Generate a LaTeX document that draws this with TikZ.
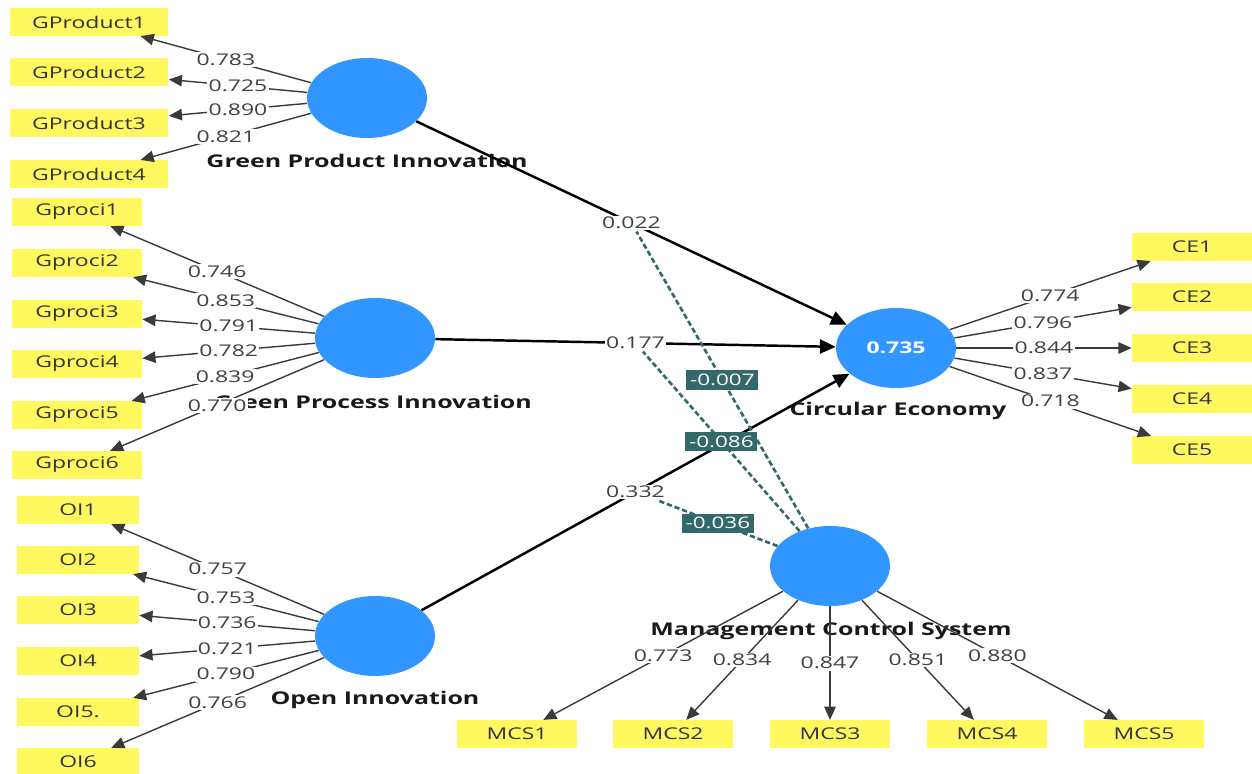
\documentclass[tikz,border=0pt]{standalone}
\usepackage{fontspec}
\setmainfont{Open Sans}[FakeStretch=1.42]
\usetikzlibrary{shapes.geometric,arrows.meta}

\definecolor{lvblue}{HTML}{3196FF}
\definecolor{indyellow}{HTML}{FFF85F}
\definecolor{modteal}{HTML}{33696A}
\definecolor{ldgray}{HTML}{3A3A3A}

\begin{document}
\begin{tikzpicture}
  [x=0.02cm,y=-0.02cm,
   every node/.style={font=\fontsize{9.2}{10}\selectfont, inner sep=1pt},
   lv/.style={ellipse, fill=lvblue, minimum width=2.4cm, minimum height=1.6cm, inner sep=0pt},
   lvname/.style={font=\fontsize{10}{11}\selectfont\bfseries, text=black!90},
   ind/.style={fill=indyellow, text=black!80, minimum height=0.55cm, inner sep=0pt},
   ld/.style={fill=white, text=black!75, inner sep=0.8pt},
   load/.style={draw=ldgray, line width=0.8pt, -{Triangle[length=7.5pt,width=6.5pt]}},
   struct/.style={draw=black, line width=1.4pt, -{Triangle[length=9pt,width=8pt]}},
   mod/.style={draw=modteal, line width=1.5pt, dash pattern=on 3pt off 1.6pt},
   modbox/.style={fill=modteal, text=white, inner sep=2.2pt, font=\fontsize{9}{10}\selectfont}]
  \useasboundingbox (0,0) rectangle (1252,774);

  % latent variables
  \node[lv] (gpi) at (367,98) {};
  \node[lv] (gpr) at (375,338) {};
  \node[lv] (oi) at (375,636) {};
  \node[lv] (ce) at (896,348) {\textcolor{white}{\bfseries 0.735}};
  \node[lv] (mcs) at (830,566) {};

  \node[lvname] at (367,161) {Green Product Innovation};
  \node[lvname] at (373,402) {Green Process Innovation};
  \node[lvname] at (375,700) {Open Innovation};
  \node[lvname] at (898,411) {Circular Economy};
  \node[lvname] at (831,631) {Management Control System};

  % indicators
  \foreach \i/\y in {1/22,2/72,3/123,4/174}
    \node[ind, minimum width=3.18cm] (gp\i) at (89,\y) {GProduct\i};
  \foreach \i/\y in {1/212,2/263,3/314,4/364,5/415,6/465}
    \node[ind, minimum width=2.6cm] (gc\i) at (77,\y) {Gproci\i};
  \foreach \i/\y/\t in {1/510/OI1,2/560/OI2,3/610/OI3,4/661/OI4,5/712/OI5.,6/762/OI6}
    \node[ind, minimum width=2.44cm] (oi\i) at (78,\y) {\t};
  \foreach \i/\y in {1/247,2/297,3/348,4/399,5/450}
    \node[ind, minimum width=2.4cm] (ce\i) at (1192,\y) {CE\i};
  \foreach \i/\x in {1/517,2/673,3/830,4/987,5/1144}
    \node[ind, minimum width=2.42cm] (mc\i) at (\x,734) {MCS\i};

  % outer loadings
  \foreach \i/\v in {1/0.783,2/0.725,3/0.890,4/0.821}
    \draw[load] (gpi) -- node[ld] {\v} (gp\i);
  \foreach \i/\v in {1/0.746,2/0.853,3/0.791,4/0.782,5/0.839,6/0.770}
    \draw[load] (gpr) -- node[ld] {\v} (gc\i);
  \foreach \i/\v in {1/0.757,2/0.753,3/0.736,4/0.721,5/0.790,6/0.766}
    \draw[load] (oi) -- node[ld] {\v} (oi\i);
  \foreach \i/\v in {1/0.774,2/0.796,3/0.844,4/0.837,5/0.718}
    \draw[load] (ce) -- node[ld] {\v} (ce\i);
  \foreach \i/\v in {1/0.773,2/0.834,3/0.847,4/0.851,5/0.880}
    \draw[load] (mcs) -- node[ld] {\v} (mc\i);

  % structural paths
  \draw[struct] (gpi) -- node[ld] (p1) {0.022} (ce);
  \draw[struct] (gpr) -- node[ld] (p2) {0.177} (ce);
  \draw[struct] (oi) -- node[ld] (p3) {0.332} (ce);

  % moderating effects
  \draw[mod] (mcs) -- node[modbox] {-0.007} (p1);
  \draw[mod] (mcs) -- node[modbox] {-0.086} (p2);
  \draw[mod] (mcs) -- node[modbox] {-0.036} (p3);
\end{tikzpicture}
\end{document}
